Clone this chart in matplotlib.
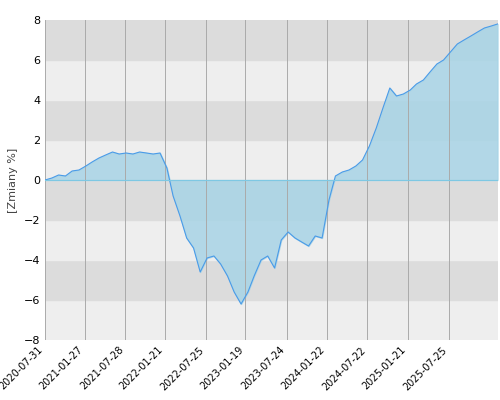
import matplotlib
matplotlib.use("Agg")
import matplotlib.pyplot as plt
import pandas as pd

# monthly readings of the cumulative change, %
values = [0.0, 0.1, 0.25, 0.2, 0.45, 0.5,
          0.7, 0.9, 1.1, 1.25, 1.4, 1.3, 1.35, 1.3, 1.4, 1.35, 1.3, 1.35,
          0.6, -0.8, -1.8, -2.9, -3.4, -4.6, -3.9, -3.8, -4.2, -4.8, -5.6, -6.2,
          -5.6, -4.8, -4.0, -3.8, -4.4, -3.0, -2.6, -2.9, -3.1, -3.3, -2.8, -2.9,
          -1.0, 0.2, 0.4, 0.5, 0.7, 1.0, 1.7, 2.6, 3.6, 4.6, 4.2, 4.3,
          4.5, 4.8, 5.0, 5.4, 5.8, 6.0, 6.4, 6.8, 7.0, 7.2, 7.4, 7.6, 7.7, 7.8]
dates = pd.date_range("2020-07-31", periods=len(values), freq="ME")

tick_labels = ["2020-07-31", "2021-01-27", "2021-07-28", "2022-01-21", "2022-07-25",
               "2023-01-19", "2023-07-24", "2024-01-22", "2024-07-22", "2025-01-21",
               "2025-07-25"]
ticks = pd.to_datetime(tick_labels)

fig, ax = plt.subplots(figsize=(5, 4), dpi=100)
fig.subplots_adjust(left=0.09, right=0.995, top=0.95, bottom=0.15)

for i, lo in enumerate(range(-8, 8, 2)):
    ax.axhspan(lo, lo + 2, color="#eeeeee" if i % 2 == 0 else "#dcdcdc", zorder=0)

ax.fill_between(dates, values, 0, color="#a8d4e6", alpha=0.85, zorder=1)
ax.plot(dates, values, color="#4a9be8", lw=0.8, zorder=2)
ax.axhline(0, color="#7ec8e3", lw=0.8, zorder=2)

ax.set_ylim(-8, 8)
ax.set_yticks(range(-8, 9, 2))
ax.set_xlim(dates[0], dates[-1])
ax.set_xticks(ticks)
ax.set_xticklabels(tick_labels, rotation=45, ha="right", fontsize=7)
ax.tick_params(axis="y", labelsize=8, length=0)
ax.tick_params(axis="x", length=0)
ax.grid(axis="x", color="#aaaaaa", lw=0.7)
for s in ax.spines.values():
    s.set_visible(False)
ax.set_ylabel("[Zmiany %]", fontsize=8, color="#444444")

fig.savefig("out.png")
